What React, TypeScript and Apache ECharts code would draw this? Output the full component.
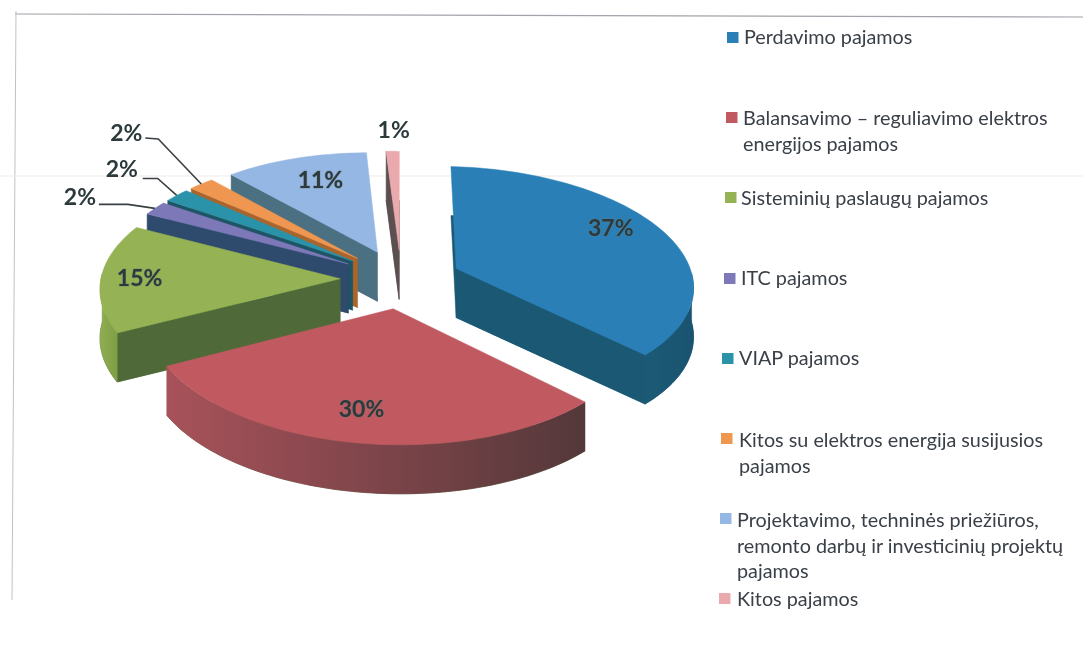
import React, { useEffect, useRef } from "react";
import * as echarts from "echarts";

const categories = [
  "Perdavimo pajamos",
  "Balansavimo – reguliavimo elektros\nenergijos pajamos",
  "Sisteminių paslaugų pajamos",
  "ITC pajamos",
  "VIAP pajamos",
  "Kitos su elektros energija susijusios\npajamos",
  "Projektavimo, techninės priežiūros,\nremonto darbų ir investicinių projektų\npajamos",
  "Kitos pajamos",
];
const shares = [37, 30, 15, 2, 2, 2, 11, 1];

const topColors = ["#2a80b6", "#c05a60", "#95b354", "#7d78b8", "#2a93aa", "#ef9650", "#95b7e4", "#eaa9ad"];
const edgeColors = ["#1b5874", "#4f6a38", "#4f6a38", "#2e4a6c", "#1d5566", "#a9652c", "#4a7082", "#5c4f50"];
const rimStops = [
  ["#1b5a76", "#1a5370"],
  ["#a8525a", "#54383a"],
  ["#8fae50", "#7f9e46"],
  ["#2e4a6c", "#2e4a6c"],
  ["#1d5566", "#1d5566"],
  ["#a9652c", "#a9652c"],
  ["#4a7082", "#4a7082"],
  ["#5c4f50", "#5c4f50"],
];

// Radial label position (in radius units) for labels that sit on a slice, plus a pixel nudge
const labelRadius = [0.8, 0.75, 0.84, 0, 0, 0, 0.75, 0];
const labelNudge = [[-11, -10], [-6, 2], [0, -1], [0, 0], [0, 0], [0, 0], [6, -1], [0, 0]];
// Offsets (px, from the rim) for labels outside: elbow points, text centre
const outsideLabels: Record<number, { elbow?: number[][]; text: number[] }> = {
  3: { elbow: [[-27, -4], [-56, -4]], text: [-75, -12] },
  4: { elbow: [[-19, -17], [-34, -17]], text: [-55, -27] },
  5: { elbow: [[-43, -45], [-56, -46]], text: [-75, -52] },
  7: { text: [1, -22] },
};

const legendLayout = [
  { sx: 727, sy: 32, tx: 744, ty: 36 },
  { sx: 726, sy: 112, tx: 743, ty: 117 },
  { sx: 725, sy: 192, tx: 741, ty: 197 },
  { sx: 724, sy: 273, tx: 741, ty: 277 },
  { sx: 722, sy: 353, tx: 739, ty: 357 },
  { sx: 721, sy: 433, tx: 739, ty: 439 },
  { sx: 720, sy: 513, tx: 737, ty: 519 },
  { sx: 719, sy: 593, tx: 737, ty: 598 },
];

const CX = 401, CY = 279, RX = 238, RY = 115, PERSP = 0.105, DEPTH = 49, EXPLODE = 0.255, SKEW = 0.02;
const FONT = "Lato";
const rad = (d: number) => (d * Math.PI) / 180;

const total = shares.reduce((a, b) => a + b, 0);
const starts: number[] = [];
shares.reduce((acc, v, i) => {
  starts[i] = (acc / total) * 360;
  return acc + v;
}, 0);

function project(X: number, Y: number, z: number) {
  const p = 1 / (1 + PERSP * Y);
  return [CX + X * RX * p, CY - Y * RY * p + z * DEPTH + X * RX * SKEW];
}

function renderSlice(params: any, api: any) {
  const i = params.dataIndex;
  const value = api.value(1);
  const a = starts[i];
  const b = a + (value / total) * 360;
  const mid = (a + b) / 2;
  const ox = EXPLODE * Math.sin(rad(mid));
  const oy = EXPLODE * Math.cos(rad(mid));
  const pt = (r: number, t: number, z: number) =>
    project(ox + r * Math.sin(rad(t)), oy + r * Math.cos(rad(t)), z);
  const arc = (from: number, to: number, z: number) => {
    const out: number[][] = [];
    const n = Math.max(2, Math.ceil(Math.abs(to - from) / 1.5));
    for (let k = 0; k <= n; k++) out.push(pt(1, from + ((to - from) * k) / n, z));
    return out;
  };
  const z2 = Math.round((1 - Math.cos(rad(mid))) * 100);
  const children: any[] = [];
  const poly = (points: number[][], fill: any, z: number) =>
    children.push({
      type: "polygon",
      z2: z,
      shape: { points },
      style: { fill, stroke: fill, lineWidth: 0.5 },
    });

  // bottom face closes the solid
  poly([pt(0, a, 1), ...arc(a, b, 1)], edgeColors[i], z2);
  // radial walls facing the viewer
  if (Math.sin(rad(a)) < 0) poly([pt(0, a, 0), pt(1, a, 0), pt(1, a, 1), pt(0, a, 1)], edgeColors[i], z2 + 1);
  if (Math.sin(rad(b)) > 0) poly([pt(0, b, 0), pt(1, b, 0), pt(1, b, 1), pt(0, b, 1)], edgeColors[i], z2 + 1);
  // curved wall (front half only)
  const f0 = Math.max(a, 90), f1 = Math.min(b, 270);
  if (f1 > f0) {
    const upper = arc(f0, f1, 0), lower = arc(f1, f0, 1);
    poly(
      [...upper, ...lower],
      new echarts.graphic.LinearGradient(0, 0, 1, 0, [
        { offset: 0, color: rimStops[i][0] },
        { offset: 1, color: rimStops[i][1] },
      ]),
      z2 + 1
    );
  }
  // top face
  poly([pt(0, a, 0), ...arc(a, b, 0)], topColors[i], z2 + 2);

  const labelBase = {
    text: `${value}%`,
    fontFamily: FONT,
    fontWeight: "bold",
    fontSize: 23,
    fill: "#2c3a3c",
    align: "center",
    verticalAlign: "middle",
  };
  const out = outsideLabels[i];
  if (out) {
    const rim = pt(1, mid, 0);
    if (out.elbow) {
      children.push({
        type: "polyline",
        z2: 500,
        shape: { points: [rim, ...out.elbow.map((o) => [rim[0] + o[0], rim[1] + o[1]])] },
        style: { stroke: "#3a4044", lineWidth: 1.6, fill: "none" },
      });
    }
    children.push({ type: "text", z2: 501, x: rim[0] + out.text[0], y: rim[1] + out.text[1], style: labelBase });
  } else {
    const [lx, ly] = pt(labelRadius[i], mid, 0);
    children.push({
      type: "text",
      z2: 501,
      x: lx + labelNudge[i][0],
      y: ly + labelNudge[i][1],
      style: { ...labelBase, stroke: "rgba(110,120,120,0.55)", lineWidth: 1 },
    });
  }
  return { type: "group", children };
}

export default function App() {
  const ref = useRef<HTMLDivElement>(null);
  useEffect(() => {
    document.body.style.margin = "0";
    document.body.style.background = "#fff";
    const chart = echarts.init(ref.current!, null, { renderer: "svg" });
    const legendGraphics: any[] = [];
    categories.forEach((name, i) => {
      const l = legendLayout[i];
      legendGraphics.push({
        type: "rect",
        shape: { x: l.sx, y: l.sy, width: 11.5, height: 11 },
        style: { fill: topColors[i] },
      });
      legendGraphics.push({
        type: "text",
        x: l.tx,
        y: l.ty - 13,
        style: {
          text: name,
          fontFamily: FONT,
          fontSize: 19.8,
          lineHeight: 25.7,
          fill: "#3a4048",
          align: "left",
          verticalAlign: "top",
        },
      });
    });
    chart.setOption({
      animation: false,
      backgroundColor: "#ffffff",
      graphic: [
        { type: "line", z: -1, shape: { x1: 15, y1: 14, x2: 1083, y2: 17 }, style: { stroke: "#a2a2aa", lineWidth: 1.2 } },
        { type: "line", z: -1, shape: { x1: 16, y1: 11, x2: 12, y2: 600 }, style: { stroke: "#c0c2c8", lineWidth: 1 } },
        { type: "line", z: -1, shape: { x1: 0, y1: 176, x2: 1083, y2: 176 }, style: { stroke: "#f1e9e9", lineWidth: 1 } },
        ...legendGraphics,
      ],
      series: [
        {
          type: "custom",
          coordinateSystem: "none",
          silent: true,
          data: shares.map((v, i) => [i, v]),
          renderItem: renderSlice,
        },
      ],
    });
    return () => chart.dispose();
  }, []);
  return <div ref={ref} style={{ width: 1083, height: 658, filter: "blur(0.4px)" }} />;
}
